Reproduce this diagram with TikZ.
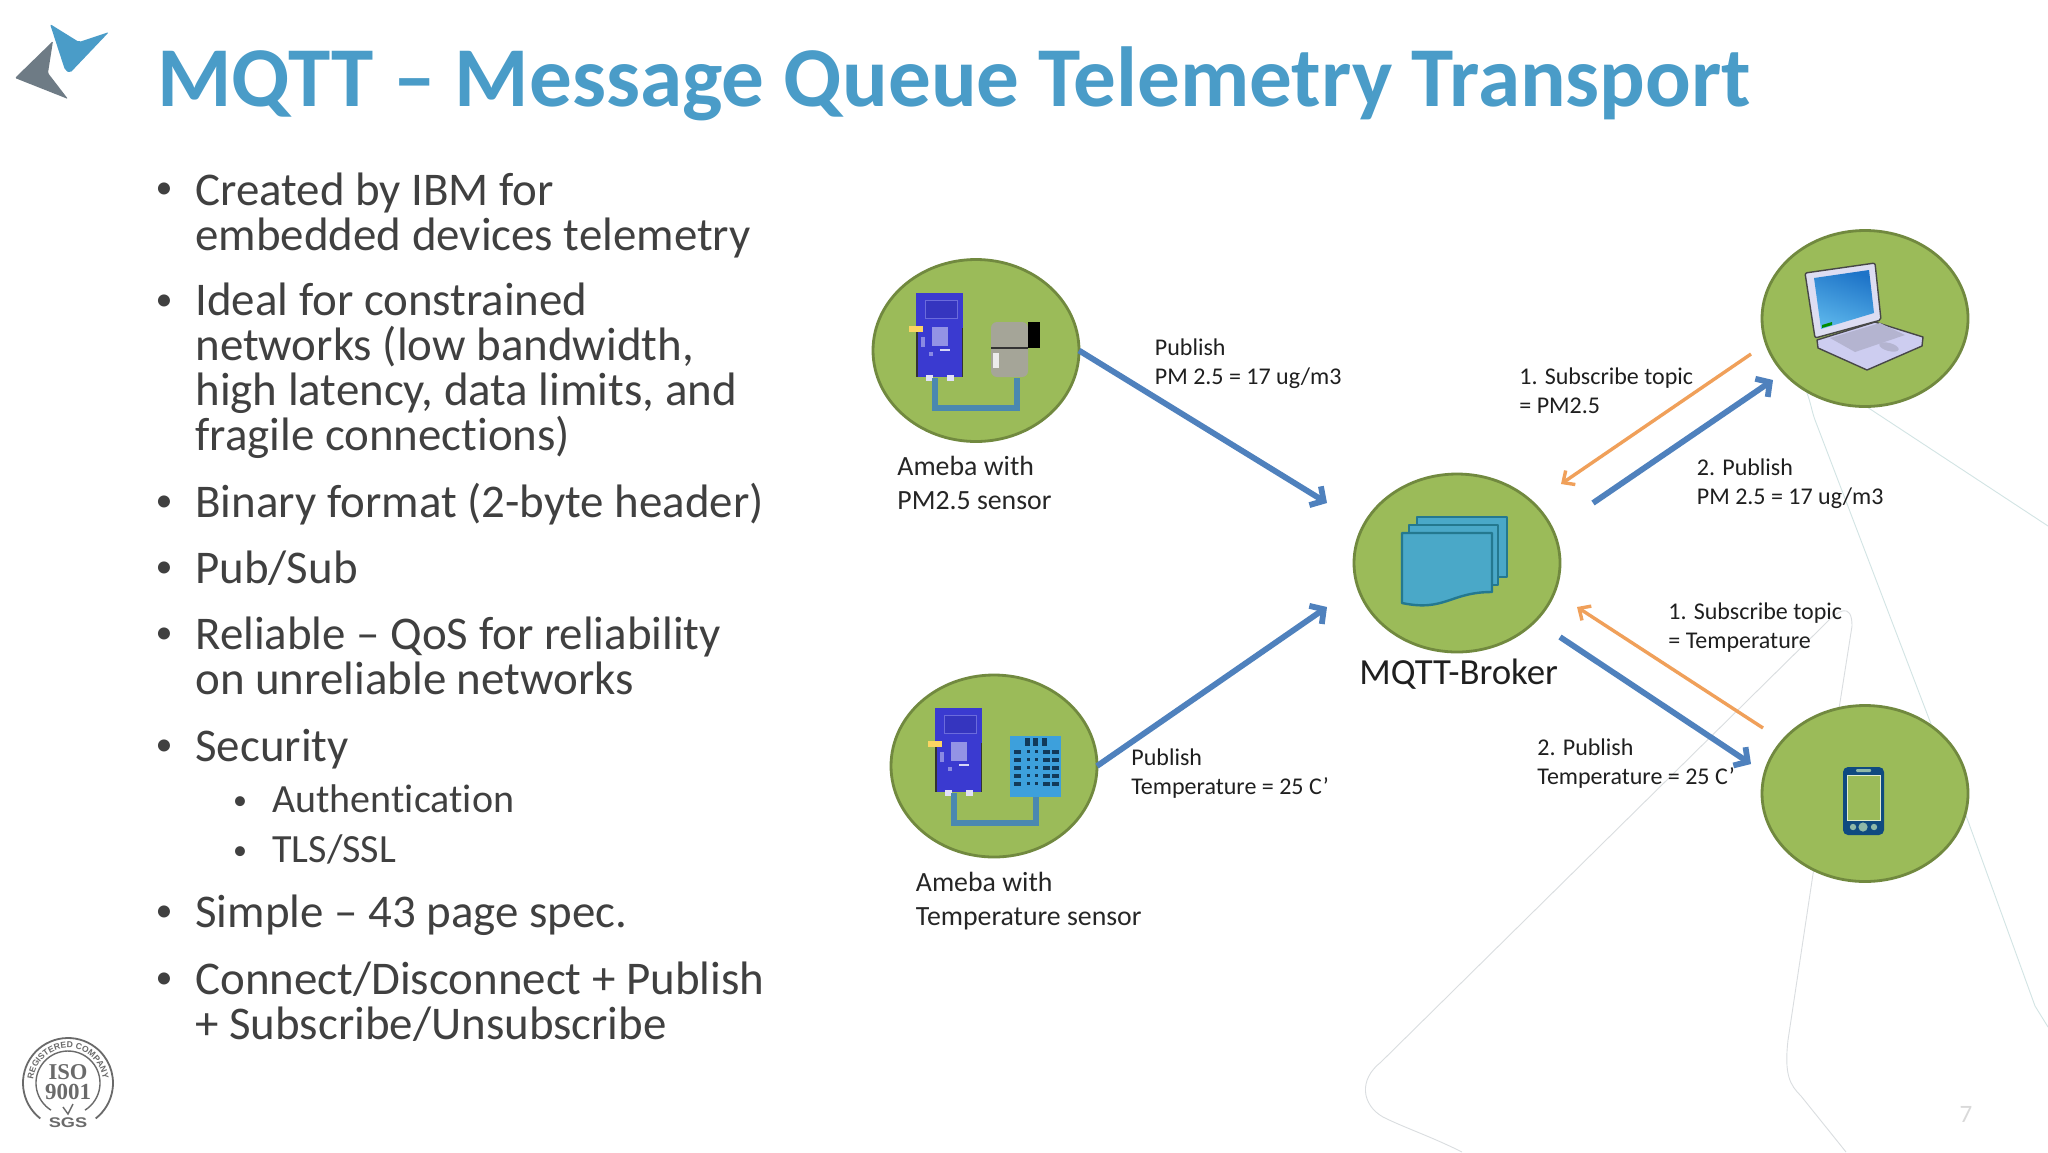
\documentclass[tikz,border=0pt]{standalone}
\usepackage{fontspec}
\usepackage{graphicx}
\setmainfont[Ligatures=NoCommon]{Carlito}
\newfontfamily\serifiso{Liberation Serif}
\newfontfamily\sansiso{Liberation Sans}
\usetikzlibrary{arrows.meta,decorations.text,shapes.geometric,calc}
\definecolor{titleblue}{HTML}{4A9CC8}
\definecolor{bodygray}{HTML}{404040}
\definecolor{leaf}{HTML}{9BBB59}
\definecolor{leafedge}{HTML}{71893F}
\definecolor{flowblue}{HTML}{4F81BD}
\definecolor{floworange}{HTML}{F0A05A}
\definecolor{logogray}{HTML}{6E7B85}
\definecolor{boardblue}{HTML}{3A3AD0}
\definecolor{wireblue}{HTML}{4A88B0}
\definecolor{faint}{HTML}{DADDE0}
\definecolor{faintteal}{HTML}{D2E4E4}
\definecolor{stamp}{HTML}{6A6A6A}
\definecolor{docfill}{HTML}{4AA8C8}
\definecolor{docedge}{HTML}{24788F}
\definecolor{sensorgray}{HTML}{A5A598}
\definecolor{sensorblue}{HTML}{3DA0DC}
\definecolor{sensorhole}{HTML}{123A5A}
\definecolor{lidlilac}{HTML}{DDDDF2}
\definecolor{baselilac}{HTML}{CDCDF0}
\definecolor{keylilac}{HTML}{B4B4D0}
\definecolor{screentop}{HTML}{1E74C8}
\definecolor{screenlow}{HTML}{5AB4EA}
\definecolor{phonebody}{HTML}{0F4A80}
\definecolor{phonekey}{HTML}{8FB8A8}
\tikzset{
  px/.style={x=0.5pt,y=-0.5pt},
  hub/.style={ellipse,draw=leafedge,fill=leaf,line width=1.4pt,inner sep=0pt,outer sep=0pt,minimum width=103pt,minimum height=90pt},
  bodytext/.style={anchor=base west,inner sep=0pt,align=left,text=bodygray,font=\fontsize{23.45}{22.5}\selectfont},
  subtext/.style={anchor=base west,inner sep=0pt,text=bodygray,font=\fontsize{20}{22.5}\selectfont},
  bulletmark/.style={anchor=base,inner sep=0pt,text=bodygray,font=\fontsize{17}{20}\selectfont},
  smallbullet/.style={anchor=base,inner sep=0pt,text=bodygray,font=\fontsize{14}{20}\selectfont},
  flowlabel/.style={anchor=base west,inner sep=0pt,align=left,text=black!88,font=\fontsize{12}{14.5}\selectfont},
  amebalabel/.style={anchor=base west,inner sep=0pt,align=left,text=black!85,font=\fontsize{13.9}{17}\selectfont},
  pubarrow/.style={draw=flowblue,line width=2.9pt,-{Straight Barb[length=5pt,width=11pt]}},
  subarrow/.style={draw=floworange,line width=1.7pt,-{Straight Barb[length=4.5pt,width=8.5pt]}},
  backline/.style={draw=faint,line width=0.45pt},
  docsheet/.style={draw=docedge,fill=docfill,line width=1.2pt,line join=round},
}
\newcommand{\boardicon}{%
  \fill[boardblue] (916,293) rectangle (963,377);
  \fill[black!80] (916,330) rectangle (917.5,377);
  \fill[black!80] (961.5,328) rectangle (963,377);
  \draw[fill=boardblue!92!black,draw=boardblue!75!white,line width=0.5pt] (925,300) rectangle (957,318);
  \fill[boardblue!55!white] (932,327) rectangle (948,346);
  \fill[boardblue!60!white] (921,337) rectangle (925,347);
  \fill[boardblue!60!white] (929,352) rectangle (933,356);
  \fill[white!80!boardblue] (940,349) rectangle (950,351);
  \fill[yellow!50!orange!60!white] (909,326) rectangle (923,332);
  \fill[white!85!boardblue] (926,375) rectangle (933,381);
  \fill[white!85!boardblue] (947,375) rectangle (954,381);
  \draw[wireblue,line width=2.6pt,line join=miter] (935,378) -- (935,408) -- (1017,408) -- (1017,378);
}
\begin{document}
\begin{tikzpicture}[px]
\useasboundingbox (0,0) rectangle (2048,1152);
\fill[white] (0,0) rectangle (2048,1152);

% faint slide-master lines
\draw[backline] (1462,1152) .. controls (1430,1136) and (1405,1128) .. (1383,1117)
  .. controls (1362,1105) and (1358,1080) .. (1381,1062)
  -- (1825,624) .. controls (1838,610) and (1852,602) .. (1852,626)
  -- (1813,874) -- (1788,1040)
  .. controls (1784,1075) and (1790,1085) .. (1801,1096) -- (1846,1152);
\draw[backline,draw=faintteal] (1807,393) .. controls (1811,404) and (1812,412) .. (1815,420)
  -- (1968,821) -- (2035,1006) -- (2048,1027);
\draw[backline,draw=faintteal] (1867,407) -- (2048,526);

% logo
\fill[titleblue,rounded corners=1pt] (50,24) -- (79,42) -- (109,32) -- (70,73) -- (65,70) -- cycle;
\fill[logogray,rounded corners=0.6pt] (53,41) -- (15,78) -- (68,99) -- (48,73) -- cycle;

% title
\node[anchor=base west,inner sep=0pt,text=titleblue,font=\fontsize{42.6}{46}\selectfont\bfseries] (title)
  at (157,106) {MQTT – Message Queue Telemetry Transport};

% bullets
\node[bulletmark] (m1) at (164,198) {•};
\node[bodytext] (b1) at (195,250) {Created by IBM for\\embedded devices telemetry};
\node[bulletmark] (m2) at (164,310) {•};
\node[bodytext] (b2) at (195,450) {Ideal for constrained\\networks (low bandwidth,\\high latency, data limits, and\\fragile connections)};
\node[bulletmark] (m3) at (164,511) {•};
\node[bodytext] (b3) at (195,517) {Binary format (2-byte header)};
\node[bulletmark] (m4) at (164,577) {•};
\node[bodytext] (b4) at (195,583) {Pub/Sub};
\node[bulletmark] (m5) at (164,643) {•};
\node[bodytext] (b5) at (195,694) {Reliable – QoS for reliability\\on unreliable networks};
\node[bulletmark] (m6) at (164,755) {•};
\node[bodytext] (b6) at (195,761) {Security};
\node[smallbullet] (m7) at (240,809) {•};
\node[subtext] (s1) at (272,812) {Authentication};
\node[smallbullet] (m8) at (240,859) {•};
\node[subtext] (s2) at (272,862) {TLS/SSL};
\node[bulletmark] (m9) at (164,921) {•};
\node[bodytext] (b7) at (195,927) {Simple – 43 page spec.};
\node[bulletmark] (m10) at (164,988) {•};
\node[bodytext] (b8) at (195,1039) {Connect/Disconnect + Publish\\+ Subscribe/Unsubscribe};

% ISO stamp
\draw[stamp,line width=0.9pt] (68,1083) ++(232:22.5pt) arc[start angle=232,end angle=-52,radius=22.5pt];
\draw[stamp,line width=0.7pt] (68,1083) ++(238:16pt) arc[start angle=238,end angle=-58,radius=16pt];
\path[postaction={decorate},decoration={text along path,text={|\sansiso\fontsize{4.3}{4.5}\selectfont\bfseries\color{stamp}|REGISTERED COMPANY},text align=center}]
  (68,1083) ++(175:17.5pt) arc[start angle=175,end angle=5,radius=17.5pt];
\node[inner sep=0pt,text=stamp,font=\serifiso\bfseries\fontsize{11.3}{11.3}\selectfont] (iso1) at (68,1072) {ISO};
\node[inner sep=0pt,text=stamp,font=\serifiso\bfseries\fontsize{11.5}{11.5}\selectfont] (iso2) at (68,1092) {9001};
\draw[stamp,line width=0.7pt] (63,1107) -- (68,1114) -- (73,1104);
\node[inner sep=0pt,text=stamp,font=\sansiso\bfseries\fontsize{7}{7}\selectfont] (iso3) at (68,1123) {\scalebox{1.3}[1]{SGS}};

% hubs
\node[hub,minimum height=91pt] (amebaA) at (976,350.5) {};
\node[hub,minimum height=91pt] (amebaB) at (994,766) {};
\node[hub,minimum height=89pt] (broker) at (1457,563) {};
\node[hub,minimum height=88pt] (laptop) at (1865,318.5) {};
\node[hub,minimum height=88pt] (phone) at (1865,793.5) {};

% ameba with PM2.5 sensor
\begin{scope}
  \boardicon
  \fill[sensorgray,rounded corners=3pt] (991,377) -- (991,322) -- (1028,322) -- (1028,377) -- cycle;
  \fill[black] (1028,322) rectangle (1040,348);
  \draw[black!80,line width=0.7pt] (991,348) -- (1028,348);
  \fill[white!85!gray] (993,353) rectangle (999,368);
\end{scope}
% ameba with temperature sensor
\begin{scope}[shift={(19,415)}]
  \boardicon
\end{scope}
\fill[sensorblue] (1010,736) rectangle (1061,797);
\foreach \xx in {1025,1033,1042}{\fill[sensorhole] (\xx,738) rectangle ++(5,8);}
\foreach \yy in {750,758,766,774,782}{
  \foreach \xx in {1014,1043,1052}{\fill[sensorhole] (\xx,\yy) rectangle ++(7,4);}
  \foreach \xx in {1027,1035}{\fill[sensorhole] (\xx,\yy) rectangle ++(3,3);}
}

% broker documents
\draw[docsheet] (1417,525) -- (1417,517) -- (1507,517) -- (1507,577) -- (1498,577);
\draw[docsheet] (1409,533) -- (1409,525) -- (1498,525) -- (1498,585) -- (1492,585);
\draw[docsheet] (1402,533) -- (1492,533) -- (1492,592)
  .. controls (1450,592) and (1445,612) .. (1402,603) -- cycle;

% laptop
\fill[baselilac,draw=black!72,line width=0.7pt,line join=round]
  (1817,340) -- (1875,322) -- (1923,337) -- (1922,346) -- (1867,370) -- (1818,348) -- cycle;
\fill[keylilac] (1830,338) -- (1880,323) -- (1905,335) -- (1855,352) -- cycle;
\fill[keylilac,rotate around={-15:(1889,347)}] (1889,347) ellipse[x radius=5pt,y radius=2pt];
\fill[lidlilac,draw=black!72,line width=0.7pt,line join=round,rounded corners=1pt]
  (1805,273) -- (1875,263) -- (1881,320) -- (1815,338) -- cycle;
\shade[top color=screentop,bottom color=screenlow,shading angle=-20]
  (1814,278) -- (1869,270) -- (1874,313) -- (1821,329) -- cycle;
\fill[green!55!black] (1822,325) -- (1832,322) -- (1832,325) -- (1822,328) -- cycle;

% phone
\fill[phonebody,rounded corners=2.5pt] (1843,767) rectangle (1884,835);
\fill[leaf,draw=white!70!leaf,line width=0.4pt] (1847,775) rectangle (1880,820);
\fill[phonekey,rounded corners=0.5pt] (1856,769) rectangle (1871,772);
\fill[phonekey] (1853,827) circle[radius=1.6pt];
\fill[phonekey] (1863,827) circle[radius=2.3pt];
\fill[phonekey] (1874,827) circle[radius=1.6pt];

% connector end points near the hubs
\coordinate (brokerInA) at ($(broker.center)+(-130,-60)$);
\coordinate (brokerInB) at ($(broker.center)+(-130,44)$);
\coordinate (subAfrom) at ($(laptop.center)+(-114,35.5)$);
\coordinate (subAto) at ($(broker.center)+(104,-79)$);
\coordinate (pubAfrom) at ($(broker.center)+(136,-60)$);
\coordinate (pubAto) at ($(laptop.center)+(-92,61.5)$);
\coordinate (subBfrom) at ($(phone.center)+(-102,-65.5)$);
\coordinate (subBto) at ($(broker.center)+(120,44)$);
\coordinate (pubBfrom) at ($(broker.center)+(103,74)$);
\coordinate (pubBto) at ($(phone.center)+(-114,-29.5)$);

\draw[pubarrow] (amebaA.east) -- (brokerInA);
\draw[pubarrow] (amebaB.east) -- (brokerInB);
\draw[subarrow] (subAfrom) -- (subAto);
\draw[pubarrow] (pubAfrom) -- (pubAto);
\draw[subarrow] (subBfrom) -- (subBto);
\draw[pubarrow] (pubBfrom) -- (pubBto);

% labels
\node[flowlabel] (l1) at (1154.5,384) {Publish\\PM 2.5 = 17 ug/m3};
\node[amebalabel] (l2) at (897,509) {Ameba with\\PM2.5 sensor};
\node[flowlabel] (l3) at (1131,794) {Publish\\Temperature = 25 C’};
\node[amebalabel] (l4) at (915.5,925) {Ameba with\\Temperature sensor};
\node[flowlabel] (l5) at (1519,413) {1. Subscribe topic\\= PM2.5};
\node[flowlabel] (l6) at (1696.5,504) {2. Publish\\PM 2.5 = 17 ug/m3};
\node[flowlabel] (l7) at (1668,648) {1. Subscribe topic\\= Temperature};
\node[flowlabel] (l8) at (1537,784) {2. Publish\\Temperature = 25 C’};
\node[anchor=base west,inner sep=0pt,text=black!88,font=\fontsize{18.4}{20}\selectfont] (l9) at (1359,684) {MQTT-Broker};
\node[anchor=base,inner sep=0pt,text=black!15,font=\fontsize{12.5}{14}\selectfont] (pg) at (1966,1122) {7};
\end{tikzpicture}
\end{document}
